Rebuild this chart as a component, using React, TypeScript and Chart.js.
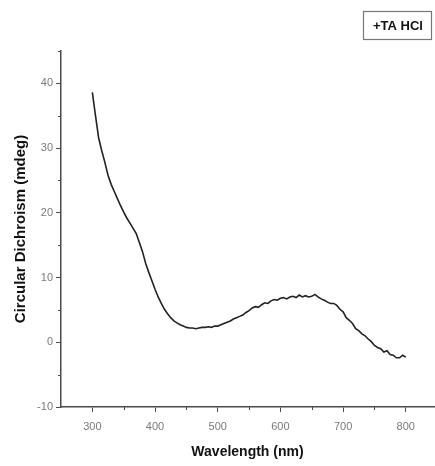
import React, { useEffect, useRef } from "react";
import { Chart, registerables } from "chart.js";

Chart.register(...registerables);

const wavelengths: number[] = [
  300, 305, 310, 315, 320, 325, 330, 335, 340, 345, 350, 355, 360, 365, 370, 375, 380, 385, 390, 395,
  400, 405, 410, 415, 420, 425, 430, 435, 440, 445, 450, 455, 460, 465, 470, 475, 480, 485, 490, 495,
  500, 505, 510, 515, 520, 525, 530, 535, 540, 545, 550, 555, 560, 565, 570, 575, 580, 585, 590, 595,
  600, 605, 610, 615, 620, 625, 630, 635, 640, 645, 650, 655, 660, 665, 670, 675, 680, 685, 690, 695,
  700, 705, 710, 715, 720, 725, 730, 735, 740, 745, 750, 755, 760, 765, 770, 775, 780, 785, 790, 795, 800,
];

const cdValues: number[] = [
  38.6, 35.0, 31.6, 29.6, 27.8, 25.8, 24.4, 23.3, 22.2, 21.1, 20.1, 19.2, 18.4, 17.6, 16.8, 15.4, 14.0, 12.2, 10.8, 9.5,
  8.2, 7.0, 6.0, 5.1, 4.4, 3.8, 3.3, 3.0, 2.7, 2.5, 2.3, 2.2, 2.2, 2.1, 2.2, 2.3, 2.3, 2.4, 2.3, 2.5,
  2.5, 2.7, 2.9, 3.1, 3.3, 3.6, 3.8, 4.0, 4.2, 4.6, 4.9, 5.3, 5.5, 5.4, 5.8, 6.1, 6.0, 6.4, 6.6, 6.5,
  6.8, 6.9, 6.7, 7.0, 7.1, 6.9, 7.3, 7.0, 7.2, 7.0, 7.1, 7.4, 7.0, 6.7, 6.5, 6.2, 6.0, 6.0, 5.7, 5.1,
  4.7, 3.8, 3.4, 2.9, 2.1, 1.8, 1.3, 1.0, 0.5, 0.1, -0.5, -0.8, -1.0, -1.5, -1.3, -1.9, -2.0, -2.4, -2.4, -2.0, -2.3,
];

const xMajorTicks: number[] = [300, 400, 500, 600, 700, 800];
const xMinorTicks: number[] = [350, 450, 550, 650, 750];
const yMajorTicks: number[] = [-10, 0, 10, 20, 30, 40];
const yMinorTicks: number[] = [-5, 5, 15, 25, 35, 45];

const legendText = "+TA HCl";
const xTitle = "Wavelength (nm)";
const yTitle = "Circular Dichroism (mdeg)";

const AXIS_COLOR = "#4a4a4a";
const TICK_LABEL_COLOR = "#7a7a7a";
const FONT = "'Liberation Sans', Arial, sans-serif";

const minorTickPlugin = {
  id: "minorTicks",
  afterDraw(chart: any) {
    const ctx = chart.ctx;
    const xs = chart.scales.x;
    const ys = chart.scales.y;
    const area = chart.chartArea;
    ctx.save();
    ctx.strokeStyle = AXIS_COLOR;
    ctx.lineWidth = 1;
    xMinorTicks.forEach((v) => {
      const px = Math.round(xs.getPixelForValue(v)) + 0.5;
      ctx.beginPath();
      ctx.moveTo(px, area.bottom);
      ctx.lineTo(px, area.bottom + 3);
      ctx.stroke();
    });
    yMinorTicks.forEach((v) => {
      const py = Math.round(ys.getPixelForValue(v)) + 0.5;
      ctx.beginPath();
      ctx.moveTo(area.left, py);
      ctx.lineTo(area.left - 3, py);
      ctx.stroke();
    });
    ctx.restore();
  },
};

const legendBoxPlugin = {
  id: "legendBox",
  afterDraw(chart: any) {
    const ctx = chart.ctx;
    ctx.save();
    ctx.font = "bold 13px " + FONT;
    ctx.strokeStyle = "#777777";
    ctx.lineWidth = 1.2;
    ctx.strokeRect(363.5, 11.5, 68, 28);
    ctx.fillStyle = "#111111";
    ctx.textAlign = "center";
    ctx.textBaseline = "middle";
    ctx.fillText(legendText, 398, 26);
    ctx.restore();
  },
};

export default function App() {
  const canvasRef = useRef<HTMLCanvasElement | null>(null);

  useEffect(() => {
    if (!canvasRef.current) return;
    const chart = new Chart(canvasRef.current, {
      type: "line",
      data: {
        datasets: [
          {
            label: legendText,
            data: wavelengths.map((w, i) => ({ x: w, y: cdValues[i] })),
            borderColor: "#222222",
            borderWidth: 1.6,
            pointRadius: 0,
            tension: 0,
            fill: false,
          },
        ],
      },
      options: {
        animation: false,
        responsive: false,
        devicePixelRatio: 1,
        layout: { padding: { left: 0, top: 51, right: 1, bottom: 0 } },
        plugins: {
          legend: { display: false },
          tooltip: { enabled: false },
        },
        scales: {
          x: {
            type: "linear",
            min: 250,
            max: 845,
            afterBuildTicks: (scale: any) => {
              scale.ticks = xMajorTicks.map((v) => ({ value: v }));
            },
            afterFit: (scale: any) => {
              scale.height = 59;
            },
            grid: {
              drawOnChartArea: false,
              drawTicks: true,
              tickLength: 5,
              tickWidth: 1,
              tickColor: AXIS_COLOR,
            },
            border: { display: true, color: AXIS_COLOR, width: 1.5 },
            ticks: {
              color: TICK_LABEL_COLOR,
              font: { family: FONT, size: 11 },
              padding: 8,
              maxRotation: 0,
              autoSkip: false,
            },
            title: {
              display: true,
              text: xTitle,
              color: "#111111",
              font: { family: FONT, size: 14, weight: "bold" },
              padding: { top: 0, bottom: 5 },
            },
          },
          y: {
            type: "linear",
            min: -10,
            max: 45,
            afterBuildTicks: (scale: any) => {
              scale.ticks = yMajorTicks.map((v) => ({ value: v }));
            },
            afterFit: (scale: any) => {
              scale.width = 61;
            },
            grid: {
              drawOnChartArea: false,
              drawTicks: true,
              tickLength: 5,
              tickWidth: 1,
              tickColor: AXIS_COLOR,
            },
            border: { display: true, color: AXIS_COLOR, width: 1.5 },
            ticks: {
              color: TICK_LABEL_COLOR,
              font: { family: FONT, size: 11 },
              padding: 3,
              autoSkip: false,
            },
            title: {
              display: true,
              text: yTitle,
              color: "#111111",
              font: { family: FONT, size: 15, weight: "bold" },
              padding: { top: 12, bottom: 0 },
            },
          },
        },
      },
      plugins: [minorTickPlugin, legendBoxPlugin],
    } as any);
    return () => chart.destroy();
  }, []);

  return (
    <div
      style={{
        position: "absolute",
        left: 0,
        top: 0,
        width: 435,
        height: 466,
        overflow: "hidden",
        background: "#ffffff",
      }}
    >
      <canvas ref={canvasRef} width={435} height={466} style={{ display: "block" }} />
    </div>
  );
}
